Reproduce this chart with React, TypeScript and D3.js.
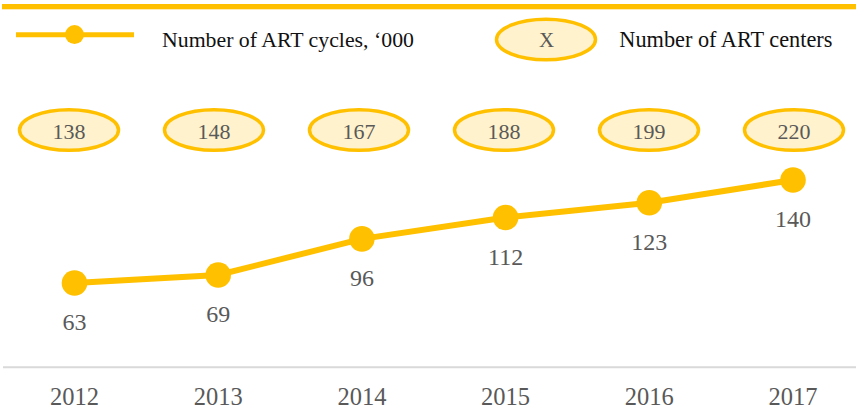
import React from "react";
import * as d3 from "d3";

const years = ["2012", "2013", "2014", "2015", "2016", "2017"];
const cycles = [63, 69, 96, 112, 123, 140];
const centers = [138, 148, 167, 188, 199, 220];
const legendCycles = "Number of ART cycles, \u2018000";
const legendCenters = "Number of ART centers";
const legendMarker = "X";

const W = 856;
const H = 410;
const YELLOW = "#FFC000";
const FILL = "#FFF2CC";
const GRAY = "#595959";
const FONT = "'Liberation Serif', 'Times New Roman', serif";

export default function App() {
  const x = d3.scalePoint<string>().domain(years).range([74.5, 793]);
  const xe = d3.scalePoint<string>().domain(years).range([69, 794]);
  const y = d3.scaleLinear().domain([0, 140]).range([367.3, 180]);
  const line = d3
    .line<number>()
    .x((_, i) => x(years[i]) as number)
    .y((d) => y(d));

  return (
    <svg
      width={W}
      height={H}
      style={{ position: "absolute", left: 0, top: 0, background: "#fff" }}
      fontFamily={FONT}
    >
      {/* top bar */}
      <rect x={2} y={4} width={854} height={5.3} fill={YELLOW} />

      {/* legend */}
      <line x1={16} x2={134} y1={34.7} y2={34.7} stroke={YELLOW} strokeWidth={5} />
      <circle cx={74.5} cy={34.6} r={9.5} fill={YELLOW} />
      <text x={162} y={46.7} fontSize={21.8} fill="#111">
        {legendCycles}
      </text>
      <ellipse cx={546} cy={39.5} rx={49.5} ry={20.3} fill={FILL} stroke={YELLOW} strokeWidth={3.5} />
      <text x={546.5} y={46.7} fontSize={21} fill={GRAY} textAnchor="middle">
        {legendMarker}
      </text>
      <text x={619.3} y={46.7} fontSize={22.3} fill="#111">
        {legendCenters}
      </text>

      {/* centers ellipses */}
      {centers.map((c, i) => (
        <g key={"e" + i}>
          <ellipse
            cx={xe(years[i]) as number}
            cy={130}
            rx={49.5}
            ry={20.3}
            fill={FILL}
            stroke={YELLOW}
            strokeWidth={3.5}
          />
          <text
            x={xe(years[i]) as number}
            y={139.3}
            fontSize={22}
            fill={GRAY}
            textAnchor="middle"
          >
            {c}
          </text>
        </g>
      ))}

      {/* axis line */}
      <line x1={3} x2={856} y1={367.3} y2={367.3} stroke="#D9D9D9" strokeWidth={2} />

      {/* line series */}
      <path d={line(cycles) || ""} fill="none" stroke={YELLOW} strokeWidth={6} />
      {cycles.map((v, i) => (
        <g key={"p" + i}>
          <circle cx={x(years[i]) as number} cy={y(v)} r={12.8} fill={YELLOW} />
          <text
            x={x(years[i]) as number}
            y={y(v) + 47.3}
            fontSize={24}
            fill={GRAY}
            textAnchor="middle"
          >
            {v}
          </text>
        </g>
      ))}

      {/* x labels */}
      {years.map((yr) => (
        <text
          key={yr}
          x={x(yr) as number}
          y={404.5}
          fontSize={24.5}
          fill={GRAY}
          textAnchor="middle"
        >
          {yr}
        </text>
      ))}
    </svg>
  );
}
